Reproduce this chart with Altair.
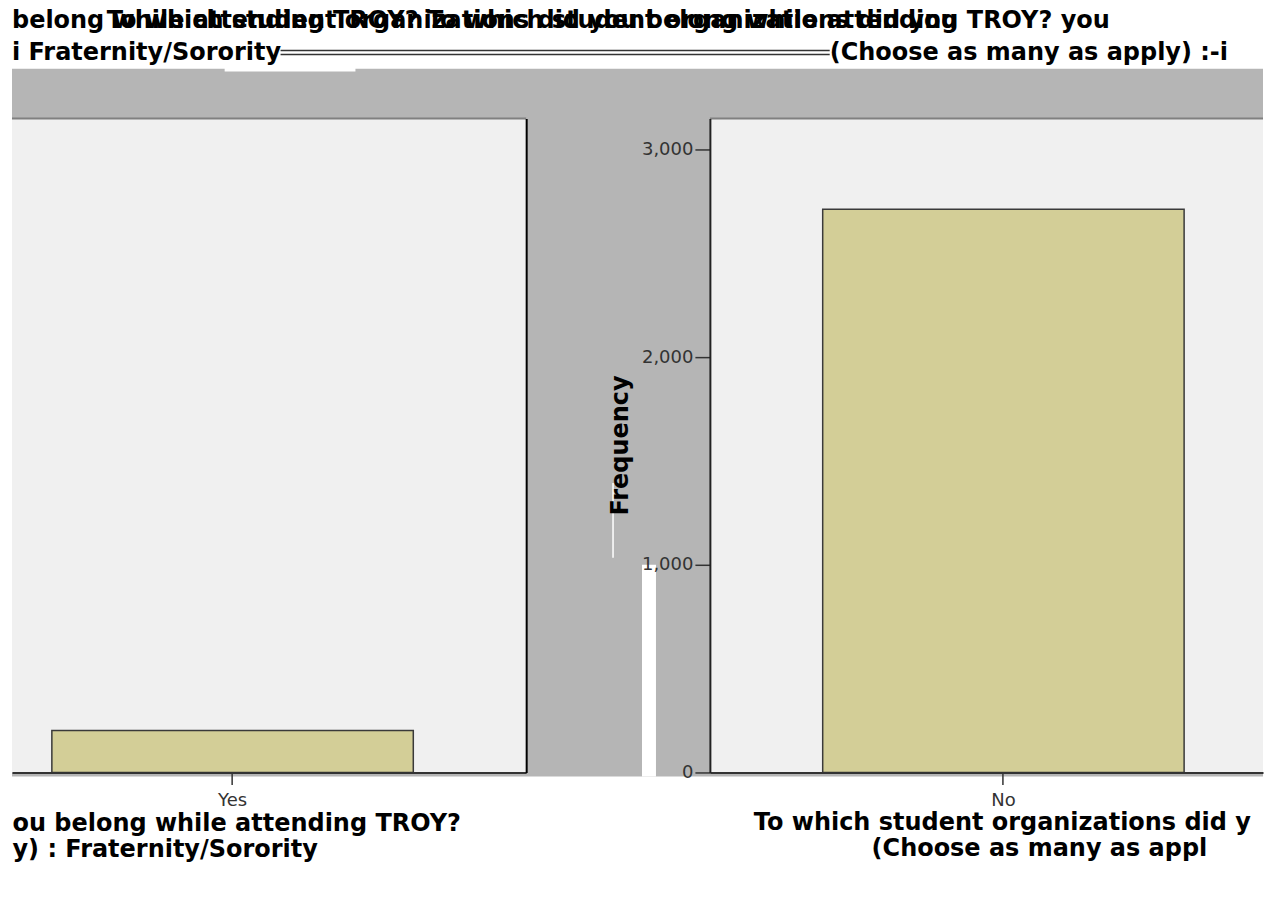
import altair as alt
import pandas as pd

# ---------------- data ----------------
CATEGORIES = ["Yes", "No"]
FREQUENCIES = [202, 2712]
Y_TICKS = [0, 1000, 2000, 3000]
Y_MAX = 3149

Y_TITLE = "Frequency"
LEFT_AXIS_TITLE = ["ou belong while attending TROY?", "y) : Fraternity/Sorority"]
RIGHT_TITLE_1 = "To which student organizations did y"
RIGHT_TITLE_2 = "(Choose as many as appl"
HEADER_1A = "belong while attending TROY? To which student organizations did you"
HEADER_1B = "To which student organizations did you belong while attending TROY? you"
HEADER_2A = "i Fraternity/Sorority"
HEADER_2B = "(Choose as many as apply) :-i"

# ---------------- style ----------------
FONT = "DejaVu Sans"
BAR_FILL = "#d3ce97"
BAR_STROKE = "#3a3a3a"
BAND_GRAY = "#b5b5b5"
PLOT_FILL = "#f0f0f0"
W_A, W_B, H = 515, 554, 655
RIGHT_EDGE = 1253  # panel-A coords of the page's right edge

df = pd.DataFrame({"category": CATEGORIES, "frequency": FREQUENCIES})
yscale = alt.Scale(domain=[0, Y_MAX], nice=False, zero=True)

XAX = dict(labelFont=FONT, labelFontSize=18, labelColor="#333333", labelAngle=0,
           labelPadding=7, tickSize=12, tickColor="#333333", tickWidth=1.5,
           domainColor="#333333", domainWidth=2, grid=False, zindex=1)


def rect(base, x, x2, y, y2, color):
    return base.mark_rect(color=color).encode(
        x=alt.value(x), x2=alt.value(x2), y=alt.value(y), y2=alt.value(y2))


def hrule(base, x, x2, y, color, w):
    return base.mark_rule(color=color, strokeWidth=w).encode(
        x=alt.value(x), x2=alt.value(x2), y=alt.value(y))


def text(base, s, x, y, baseline="top"):
    return base.mark_text(align="left", baseline=baseline, font=FONT, fontSize=24,
                          fontWeight="bold", color="black").encode(
        x=alt.value(x), y=alt.value(y), text=alt.value(s))


# ---------------- left panel ----------------
base_a = alt.Chart(df).transform_filter(alt.datum.category == CATEGORIES[0])

bars_a = base_a.mark_bar(fill=BAR_FILL, stroke=BAR_STROKE, strokeWidth=1.5).encode(
    x=alt.X("category:N",
            scale=alt.Scale(paddingInner=0, paddingOuter=0.2113, align=0.261),
            axis=alt.Axis(title=LEFT_AXIS_TITLE, titleX=0, titleY=39,
                          titleAnchor="start", titleAlign="left",
                          titleBaseline="top", titleLineHeight=26,
                          titleFont=FONT, titleFontSize=24, titleFontWeight="bold",
                          titleColor="black", **XAX)),
    y=alt.Y("frequency:Q", scale=yscale,
            axis=alt.Axis(orient="right", labels=False, ticks=False, grid=False,
                          title=None, domainColor="black", domainWidth=2, zindex=1)),
)

panel_a = alt.layer(
    rect(base_a, 0, RIGHT_EDGE, -50, 659, BAND_GRAY),
    rect(base_a, 0, RIGHT_EDGE, -110, -50, "white"),
    rect(base_a, 213, 344, -53, -47, "white"),
    rect(base_a, 631, 645, 447, 659, "white"),
    base_a.mark_rule(color="white", strokeWidth=1.5).encode(
        x=alt.value(602), y=alt.value(365), y2=alt.value(440)),
    rect(base_a, 0, W_A, 0, H, PLOT_FILL),
    hrule(base_a, 0, W_A, 0, "#808080", 2),
    bars_a,
    text(base_a, HEADER_1A, 0, -110),
    text(base_a, HEADER_1B, 95, -110),
    text(base_a, HEADER_2A, 0, -59, baseline="alphabetic"),
    hrule(base_a, 269, 819, -68, "#333333", 1.5),
    hrule(base_a, 269, 819, -64, "#333333", 1.5),
    text(base_a, HEADER_2B, 819, -59, baseline="alphabetic"),
).properties(width=W_A, height=H)

# ---------------- right panel ----------------
base_b = alt.Chart(df).transform_filter(alt.datum.category == CATEGORIES[1])

bars_b = base_b.mark_bar(fill=BAR_FILL, stroke=BAR_STROKE, strokeWidth=1.5).encode(
    x=alt.X("category:N",
            scale=alt.Scale(paddingInner=0, paddingOuter=0.2652, align=0.5885),
            axis=alt.Axis(title=None, **XAX)),
    y=alt.Y("frequency:Q", scale=yscale,
            axis=alt.Axis(values=Y_TICKS, format=",.0f", title=Y_TITLE,
                          titleFont=FONT, titleFontSize=24, titleFontWeight="bold",
                          titleColor="black", titleAngle=270, titleX=-78, titleY=327,
                          titleBaseline="bottom", titleAlign="center",
                          labelFont=FONT, labelFontSize=18, labelColor="#333333",
                          labelPadding=2, tickSize=15, tickColor="#333333",
                          tickWidth=1.5, domainColor="#222222", domainWidth=2,
                          grid=False, zindex=1)),
)

panel_b = alt.layer(
    rect(base_b, 0, W_B, 0, H, PLOT_FILL),
    hrule(base_b, 0, W_B, 0, "#808080", 2),
    bars_b,
    text(base_b, RIGHT_TITLE_1, 44, 694),
    text(base_b, RIGHT_TITLE_2, 162, 720),
).properties(width=W_B, height=H)

chart = alt.hconcat(panel_a, panel_b, spacing=184, bounds="flush").properties(
    padding={"left": 3, "top": 0, "right": 0, "bottom": 0},
    background="white",
).configure_view(stroke=None)

chart.save("out.html", embed_options={"renderer": "svg", "actions": False})
